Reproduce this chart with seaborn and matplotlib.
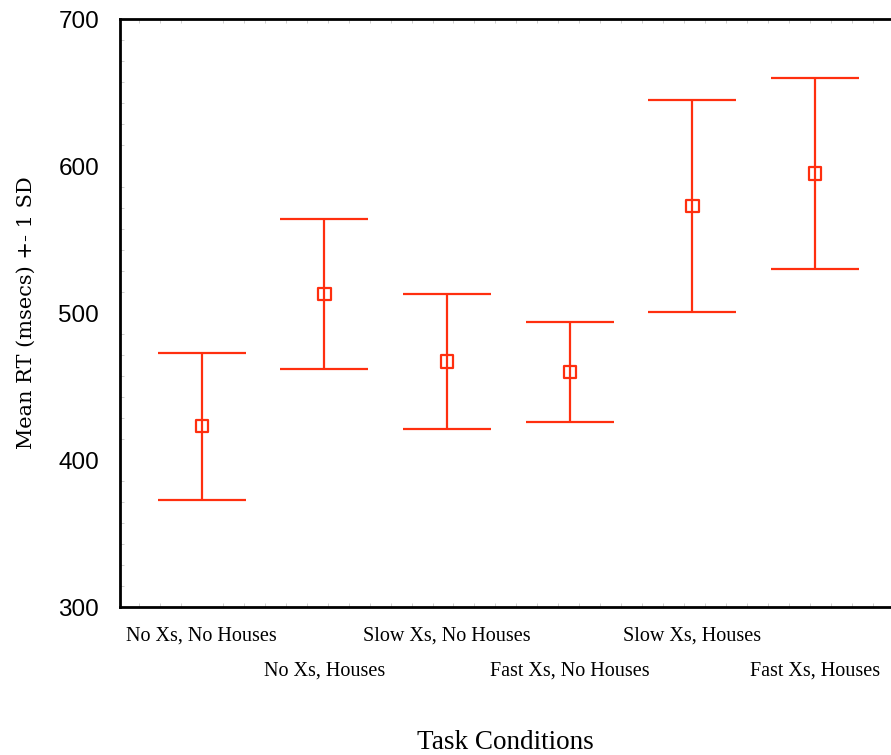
import numpy as np
import pandas as pd
import matplotlib
matplotlib.use("Agg")
import matplotlib.pyplot as plt
import seaborn as sns
from matplotlib.ticker import MultipleLocator
from matplotlib.transforms import ScaledTranslation

# data
conditions = ["No Xs, No Houses", "No Xs, Houses", "Slow Xs, No Houses",
              "Fast Xs, No Houses", "Slow Xs, Houses", "Fast Xs, Houses"]
mean_rt = [423, 513, 467, 460, 573, 595]
sd_rt = [50, 51, 46, 34, 72, 65]

df = pd.DataFrame({"condition": conditions, "mean": mean_rt, "sd": sd_rt})
df["pos"] = np.arange(len(df))

sns.set_style("ticks")
red = "#ff2f0f"

fig = plt.figure(figsize=(8.91, 7.55), dpi=100)
ax = fig.add_axes([0.1347, 0.196, 0.8653, 0.7788])

ax.errorbar(df["pos"], df["mean"], yerr=df["sd"], fmt="none",
            ecolor=red, elinewidth=1.6, capsize=32, capthick=1.6, zorder=2)
sns.scatterplot(data=df, x="pos", y="mean", marker="s", s=80,
                facecolor="none", edgecolor=red, linewidth=1.6,
                ax=ax, zorder=3, legend=False)

ax.set_xlim(-0.666, 5.618)
ax.set_ylim(300, 700)
ax.set_yticks([300, 400, 500, 600, 700])
ax.set_xticks(df["pos"])
ax.set_xticklabels(df["condition"], family="Liberation Serif", fontsize=14.5,
                   color="black")
ax.tick_params(axis="x", length=0, pad=14)
ax.tick_params(axis="y", length=0, pad=15, labelsize=17.5, labelcolor="black")
for lab in ax.get_yticklabels():
    lab.set_family("Liberation Sans")

# staggered category labels
for i, lab in enumerate(ax.get_xticklabels()):
    if i % 2:
        lab.set_transform(lab.get_transform() +
                          ScaledTranslation(0, -0.35, fig.dpi_scale_trans))

# faint inner minor ticks like the original
ax.xaxis.set_minor_locator(MultipleLocator(0.171))
ax.yaxis.set_minor_locator(MultipleLocator(100 / 7))
ax.tick_params(which="minor", direction="in", length=3, width=0.6,
               color="#c8c8c8", top=True, bottom=True, left=True)

for side in ["left", "bottom", "top"]:
    ax.spines[side].set_linewidth(2)
    ax.spines[side].set_color("black")
ax.spines["right"].set_visible(False)

ax.set_xlabel("Task Conditions", family="Liberation Serif", fontsize=19.5,
              color="black", va="center")
ax.xaxis.set_label_coords(0.5, -0.23)
ax.set_ylabel("Mean RT (msecs) +- 1 SD", family="DejaVu Serif", fontsize=15,
              color="black", labelpad=16)

fig.savefig("out.png", dpi=100)
